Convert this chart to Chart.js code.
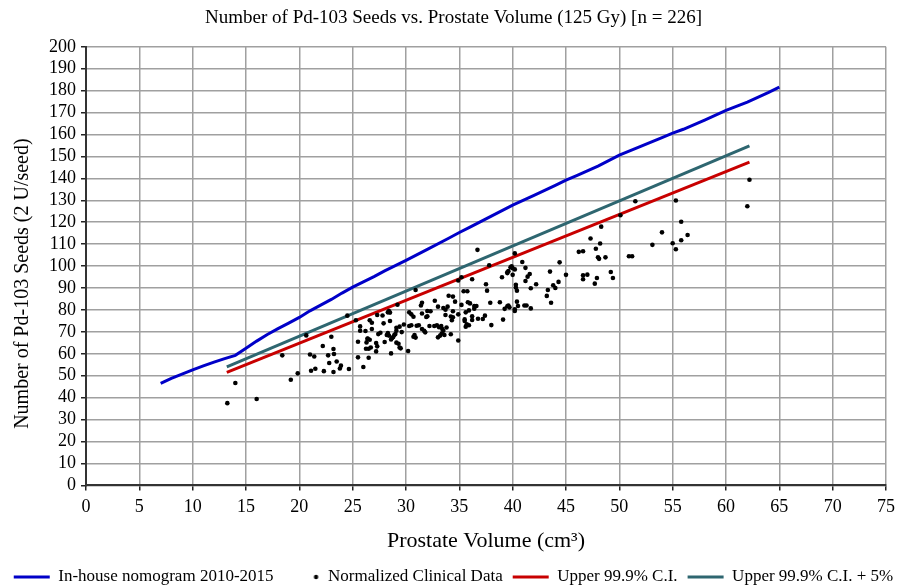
<!DOCTYPE html>
<html><head><meta charset="utf-8">
<script src="https://cdn.jsdelivr.net/npm/chart.js@4.4.1/dist/chart.umd.min.js"></script>
<style>html,body{margin:0;padding:0;background:#fff}#wrap{width:907px;height:586px;position:relative}</style>
</head><body><div id="wrap"><canvas id="c" width="907" height="586"></canvas></div>
<script>
const titleText = 'Number of Pd-103 Seeds vs. Prostate Volume (125 Gy) [n = 226]';
const xTitle = 'Prostate Volume (cm³)';
const yTitle = 'Number of Pd-103 Seeds (2 U/seed)       ';
const seriesNames = ['In-house nomogram 2010-2015', 'Normalized Clinical Data', 'Upper 99.9% C.I.', 'Upper 99.9% C.I. + 5%'];

const nomogramX = [7, 8, 9, 10, 11, 12, 13, 14, 15, 16, 17, 18, 19, 20, 21, 22, 23, 24, 25, 26, 27, 28, 29, 30, 32, 34, 35, 36, 38, 40, 42, 44, 45, 46, 48, 50, 52, 54, 55, 56, 58, 60, 62, 64, 65];
const nomogramY = [46.5, 48.8, 50.7, 52.7, 54.5, 56.2, 57.8, 59.3, 62.5, 65.8, 68.8, 71.5, 74, 76.6, 79.6, 82.2, 84.8, 87.7, 90.4, 92.8, 95.2, 97.8, 100.2, 102.6, 107.6, 112.7, 115.3, 117.8, 122.8, 127.8, 132.2, 136.8, 139.2, 141.3, 145.6, 150.6, 154.6, 158.6, 160.6, 162.4, 166.6, 171, 174.8, 179.2, 181.6];

const ciX = [13.2, 62.2];
const ciY = [51.5, 147.4];
const ci5Y = [54.1, 154.8];

const clinicalX = [13.25,14.0,16.0,18.4,19.2,19.85,20.65,21.0,21.4,21.1,21.5,22.2,22.3,22.7,23.0,23.2,23.25,22.8,23.5,23.9,23.8,23.2,24.65,24.5,
25.3,25.7,25.7,25.5,26.4,26.25,25.5,26.0,26.2,26.6,26.8,26.8,26.4,26.6,26.3,26.7,26.5,26.5,27.2,27.3,27.2,27.3,27.4,27.6,27.9,27.8,
28.0,28.3,28.4,28.3,28.7,28.9,29.1,29.4,29.8,29.1,29.3,29.4,28.6,29.2,28.5,28.5,28.2,28.6,28.8,29.1,29.6,29.5,28.4,29.0,
30.2,30.3,30.3,30.7,30.5,31.0,30.9,30.8,30.7,30.9,31.5,31.4,31.5,31.5,31.2,31.9,32.0,31.8,31.7,32.2,32.3,32.0,30.5,
32.7,33.0,32.65,32.9,33.1,33.3,33.4,33.5,33.35,33.2,33.6,33.5,33.7,33.7,34.0,34.4,34.6,34.4,34.4,34.2,34.3,34.2,33.8,33.9,33.0,
34.9,34.9,35.2,35.4,35.75,35.8,36.0,35.9,35.6,35.5,35.5,35.6,35.7,35.9,36.2,36.4,36.6,36.4,36.2,36.75,37.2,36.7,35.2,34.9,36.2,
37.8,37.5,37.6,37.4,37.9,38.0,38.8,39.1,39.25,39.5,39.7,39.9,39.6,39.5,39.0,39.5,
39.8,40.0,40.2,40.2,40.0,40.3,40.3,40.4,40.4,40.5,39.6,40.2,40.2,41.1,41.3,41.7,40.9,41.2,41.6,41.4,41.2,41.7,42.2,
43.5,44.4,45.0,44.3,43.8,44.0,43.3,43.2,43.6,
46.2,46.6,47.3,48.2,47.8,48.0,48.1,48.7,46.6,47.0,46.6,47.9,47.7,49.2,49.4,48.3,50.1,
51.5,50.9,51.2,53.1,54.0,55.0,55.3,55.8,56.4,55.8,55.3,62.0,62.2];
const clinicalY = [37.5,46.7,39.4,59.3,48.2,51.1,68.4,59.7,58.8,52.3,53.2,63.6,52.1,59.3,67.8,62.2,59.9,55.8,56.5,54.6,53.3,51.7,53.1,77.4,
75.3,72.5,70.5,65.5,66.8,62.3,58.4,54.0,70.4,75.3,71.3,74.2,67.0,66.4,65.2,62.9,62.3,58.2,64.9,63.4,61.1,77.7,69.0,69.6,73.9,77.5,
65.4,78.9,68.3,69.5,67.2,68.6,70.5,72.4,73.4,65.1,64.6,62.9,60.2,82.4,78.8,75.0,68.6,66.5,67.7,71.9,69.9,62.5,79.5,69.0,
61.3,72.7,78.9,76.9,78.0,72.8,67.4,68.6,67.8,89.1,83.3,82.0,78.4,71.3,73.0,76.8,79.5,69.8,70.5,72.7,79.4,77.1,73.0,
84.2,81.5,72.7,73.0,72.1,72.7,71.3,70.5,69.3,68.3,68.6,80.9,80.1,77.7,86.5,86.1,83.8,79.4,76.7,77.0,75.3,68.9,72.0,81.5,67.5,
66.1,78.0,82.3,88.5,88.5,83.5,83.0,79.8,78.9,75.7,75.0,72.4,73.5,73.0,75.4,81.8,81.8,80.6,77.1,76.0,75.9,107.4,94.9,93.4,94.0,
100.4,91.7,88.8,77.4,83.3,73.1,83.5,75.6,80.5,81.7,81.2,99.9,97.7,96.8,94.9,97.2,
99.5,99.0,98.5,105.8,96.0,91.5,90.2,88.8,83.8,81.8,82.0,80.3,79.5,82.0,82.0,80.7,101.9,99.2,96.4,95.2,93.2,89.9,91.7,
97.5,101.7,96.0,92.8,91.3,90.0,89.1,86.4,83.3,
106.5,106.8,112.6,110.3,107.9,104.0,103.3,104.0,95.8,96.1,94.0,94.6,92.0,97.3,94.6,118.0,123.2,
129.6,104.5,104.5,109.7,115.4,110.4,107.7,111.8,114.2,120.2,129.9,127.3,139.4];

const xMin = 0, xMax = 75, xStep = 5;
const yMin = 0, yMax = 200, yStep = 10;

const FONT = "'Liberation Serif', 'Times New Roman', serif";
const BLUE = '#0000c8', RED = '#c80000', TEAL = '#2e6670';

function pts(xs, ys) { return xs.map((x, i) => ({x: x, y: ys[i]})); }

// small dot image for the scatter legend entry
const dotImg = document.createElement('canvas');
dotImg.width = 36; dotImg.height = 8;
(function(){ const g = dotImg.getContext('2d'); g.fillStyle = '#000'; g.beginPath(); g.arc(32.5, 4, 2.2, 0, Math.PI*2); g.fill(); })();

const lineColors = [BLUE, null, RED, TEAL];

new Chart(document.getElementById('c'), {
  type: 'scatter',
  data: {
    datasets: [
      { label: seriesNames[0], data: pts(nomogramX, nomogramY), showLine: true, borderColor: BLUE, backgroundColor: BLUE, borderWidth: 3, pointRadius: 0, pointStyle: 'line', tension: 0 },
      { label: seriesNames[1], data: pts(clinicalX, clinicalY), showLine: false, backgroundColor: '#000', borderColor: '#000', borderWidth: 0, pointRadius: 2.3 },
      { label: seriesNames[2], data: pts(ciX, ciY), showLine: true, borderColor: RED, backgroundColor: RED, borderWidth: 3, pointRadius: 0, pointStyle: 'line' },
      { label: seriesNames[3], data: pts(ciX, ci5Y), showLine: true, borderColor: TEAL, backgroundColor: TEAL, borderWidth: 3, pointRadius: 0, pointStyle: 'line' }
    ]
  },
  options: {
    responsive: false,
    animation: false,
    devicePixelRatio: 1,
    layout: { padding: { left: 0, right: 0, top: 0, bottom: -9.5 } },
    plugins: {
      tooltip: { enabled: false },
      title: { display: true, text: titleText, color: '#000', font: { family: FONT, size: 19, weight: 'normal' }, padding: { top: 7, bottom: 17 } },
      legend: {
        position: 'bottom',
        labels: {
          color: '#000', font: { family: FONT, size: 17 }, usePointStyle: true, pointStyleWidth: 36, padding: 10,
          generateLabels(chart) {
            const items = Chart.defaults.plugins.legend.labels.generateLabels(chart);
            items.forEach(it => {
              const c = lineColors[it.datasetIndex];
              if (c) { it.pointStyle = 'line'; it.strokeStyle = c; it.lineWidth = 3; }
              else { it.pointStyle = dotImg; }
            });
            return items;
          }
        }
      }
    },
    scales: {
      x: {
        type: 'linear', min: xMin, max: xMax,
        ticks: { stepSize: xStep, autoSkip: false, color: '#000', font: { family: FONT, size: 18 }, padding: 6.3, maxRotation: 0 },
        grid: { color: '#a0a0a0', lineWidth: 1.5, tickLength: 5, tickColor: '#222' },
        border: { color: '#333', width: 2 },
        title: { display: true, text: xTitle, color: '#000', font: { family: FONT, size: 22 }, padding: { top: 3.5, bottom: 4 } },
        afterFit(scale) { scale.paddingRight = 21; }
      },
      y: {
        type: 'linear', min: yMin, max: yMax,
        ticks: { stepSize: yStep, autoSkip: false, color: '#000', font: { family: FONT, size: 18 }, padding: 5 },
        grid: { color: '#a0a0a0', lineWidth: 1.5, tickLength: 5, tickColor: '#222' },
        border: { color: '#333', width: 2 },
        title: { display: true, text: yTitle, color: '#000', font: { family: FONT, size: 20 }, padding: { top: 11, bottom: 4 } },
        afterFit(scale) { scale.width = 86; }
      }
    }
  }
});
</script></body></html>
